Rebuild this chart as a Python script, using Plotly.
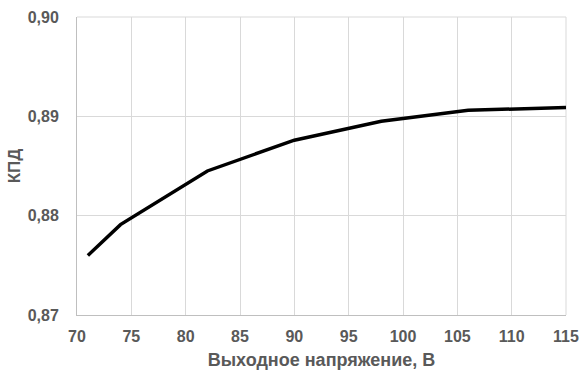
import plotly.graph_objects as go

voltage = [71, 74, 82, 90, 98, 106, 115]
efficiency = [0.876, 0.8791, 0.8845, 0.8876, 0.8895, 0.8906, 0.8909]
y_ticks = [0.87, 0.88, 0.89, 0.90]
y_tick_labels = ["0,87", "0,88", "0,89", "0,90"]
x_ticks = [70, 75, 80, 85, 90, 95, 100, 105, 110, 115]

txt = "#595959"
grid = "#d9d9d9"

fig = go.Figure(go.Scatter(x=voltage, y=efficiency, mode="lines",
                           line=dict(color="black", width=3.5)))

fig.update_layout(
    width=581, height=370,
    margin=dict(l=77, r=15, t=17, b=55),
    paper_bgcolor="white", plot_bgcolor="white",
    showlegend=False,
    font=dict(family="Liberation Sans, Arial", color=txt, size=16),
)
fig.update_xaxes(
    range=[70, 115], tickvals=x_ticks, automargin=False,
    showgrid=True, gridcolor=grid, gridwidth=1,
    showline=True, linecolor="#bfbfbf", linewidth=1,
    zeroline=False, ticks="", ticklabelstandoff=7,
    tickfont=dict(size=16, color=txt, weight="bold"),
    title=dict(text="<b>Выходное напряжение, В</b>", font=dict(size=18, color=txt), standoff=11),
)
fig.update_yaxes(
    range=[0.87, 0.90], tickvals=y_ticks, ticktext=y_tick_labels, automargin=False,
    showgrid=True, gridcolor=grid, gridwidth=1,
    showline=True, linecolor="#bfbfbf", linewidth=1,
    zeroline=False, ticks="", ticklabelstandoff=14,
    tickfont=dict(size=16, color=txt, weight="bold"),
    title=dict(text="<b>КПД</b>", font=dict(size=17, color=txt), standoff=2),
)
fig.add_shape(type="line", xref="paper", yref="paper", x0=1, x1=1, y0=0, y1=1,
              line=dict(color=grid, width=1), layer="below")
fig.add_shape(type="line", xref="paper", yref="paper", x0=0, x1=1, y0=1, y1=1,
              line=dict(color=grid, width=1), layer="below")

fig.write_html("out.html")
